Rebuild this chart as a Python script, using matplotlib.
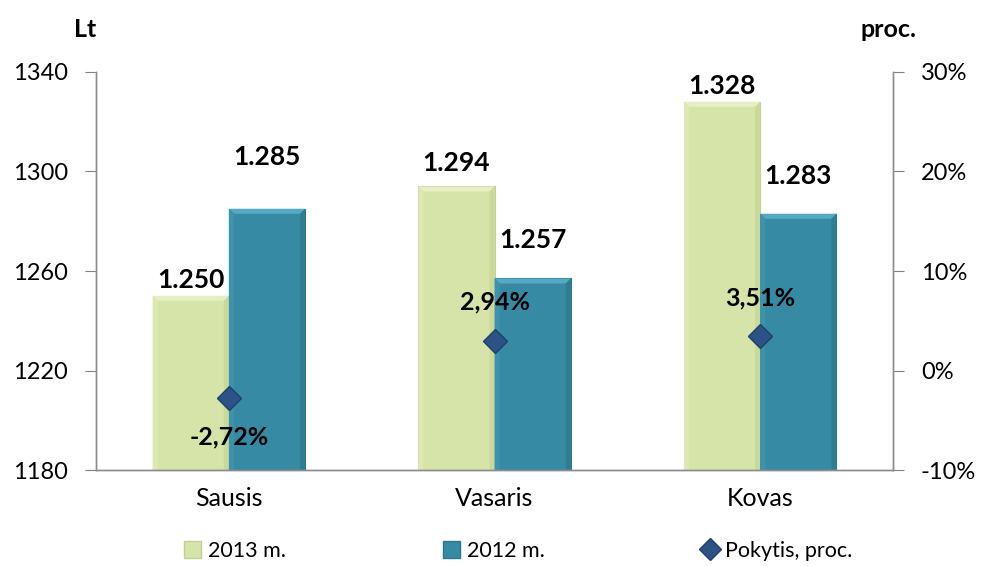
import matplotlib
matplotlib.use("Agg")
import matplotlib.pyplot as plt
import numpy as np
from matplotlib.lines import Line2D
from matplotlib.patches import Patch, Polygon

categories = ["Sausis", "Vasaris", "Kovas"]
values_2013 = [1250, 1294, 1328]
values_2012 = [1285, 1257, 1283]
change_pct = [-2.72, 2.94, 3.51]
labels_2013 = ["1.250", "1.294", "1.328"]
labels_2012 = ["1.285", "1.257", "1.283"]
labels_pct = ["-2,72%", "2,94%", "3,51%"]
left_ticks = [1180, 1220, 1260, 1300, 1340]
right_ticks = [-10, 0, 10, 20, 30]

plt.rcParams['font.family'] = ['Lato', 'DejaVu Sans']

fig = plt.figure(figsize=(9.82, 5.66), dpi=100)
ax = fig.add_axes([0.0978, 0.1696, 0.8116, 0.7032])
ax2 = ax.twinx()

green = "#d7e4a9"
green_edge = "#c2d090"
green_shades = ("#e6efc4", "#dde8b4", "#cad89a")
blue = "#378aa3"
blue_edge = "#2d778e"
blue_shades = ("#55a9c2", "#3f92ab", "#307c93")
navy = "#2c5286"

x = np.arange(len(categories))
w = 0.287
ax.set_xlim(-0.5, 2.5)
ax.set_ylim(1180, 1340)
bars13 = ax.bar(x - w/2, values_2013, w, color=green, edgecolor=green_edge, linewidth=0.8, zorder=2)
bars12 = ax.bar(x + w/2, values_2012, w, color=blue, edgecolor=blue_edge, linewidth=0.8, zorder=2)

# bevel facets derived from each bar's geometry
bx = 5 * (3.0 / 797)
by = 5 * (160.0 / 398)
for bars, shades in ((bars13, green_shades), (bars12, blue_shades)):
    for p in bars:
        x0, y0 = p.get_x(), p.get_y()
        x1, y1 = x0 + p.get_width(), y0 + p.get_height()
        top = [(x0, y1), (x1, y1), (x1 - bx, y1 - by), (x0 + bx, y1 - by)]
        left = [(x0, y1), (x0 + bx, y1 - by), (x0 + bx, y0), (x0, y0)]
        right = [(x1, y1), (x1 - bx, y1 - by), (x1 - bx, y0), (x1, y0)]
        for poly, c in ((top, shades[0]), (left, shades[1]), (right, shades[2])):
            ax.add_patch(Polygon(poly, closed=True, facecolor=c, edgecolor='none', zorder=2.5))

ax.set_yticks(left_ticks)
ax.set_yticklabels([str(t) for t in left_ticks], fontsize=17)
ax.set_xticks(x)
ax.set_xticklabels(categories, fontsize=18)
ax.tick_params(axis='x', length=0, pad=12)
ax.tick_params(axis='y', length=8, color="#808080", pad=12)

ax2.set_ylim(-10, 30)
ax2.set_yticks(right_ticks)
ax2.set_yticklabels([f"{t}%" for t in right_ticks], fontsize=17)
ax2.tick_params(axis='y', length=8, color="#808080", pad=12)

for a in (ax, ax2):
    a.spines['top'].set_visible(False)
    for s in ('left', 'right', 'bottom'):
        a.spines[s].set_color("#8c8c8c")
        a.spines[s].set_linewidth(1.0)

ax2.plot(x, change_pct, linestyle='none', marker='D', markersize=12,
         color=navy, markeredgecolor="#1f3f6b", zorder=5)

off_2013 = [6.4, 9.4, 6.4]
off_2012 = [20.8, 15.5, 15.2]
for i in range(len(categories)):
    ax.text(x[i] - w/2, values_2013[i] + off_2013[i], labels_2013[i], ha='center', va='center',
            fontsize=19, fontweight='bold', zorder=6)
    ax.text(x[i] + w/2, values_2012[i] + off_2012[i], labels_2012[i], ha='center', va='center',
            fontsize=19, fontweight='bold', zorder=6)

pct_y = [-6.7, 6.9, 7.3]
for i in range(len(categories)):
    ax2.text(x[i], pct_y[i], labels_pct[i], ha='center', va='center',
             fontsize=18, fontweight='bold', zorder=6)

fig.text(0.087, 0.947, "Lt", ha='center', va='center', fontsize=18, fontweight='bold')
fig.text(0.905, 0.947, "proc.", ha='center', va='center', fontsize=18, fontweight='bold')

handles = [Patch(facecolor=green, edgecolor=green_edge, label="2013 m."),
           Patch(facecolor=blue, edgecolor=blue_edge, label="2012 m."),
           Line2D([0], [0], marker='D', color='none', markerfacecolor=navy,
                  markeredgecolor="#1f3f6b", markersize=11, label="Pokytis, proc.")]
fig.legend(handles=handles, loc='lower center', bbox_to_anchor=(0.528, -0.025), ncol=3,
           frameon=False, fontsize=15.5, columnspacing=7.3, handlelength=0.8,
           handleheight=0.8, handletextpad=0.3)

fig.savefig("out.png", dpi=100)
